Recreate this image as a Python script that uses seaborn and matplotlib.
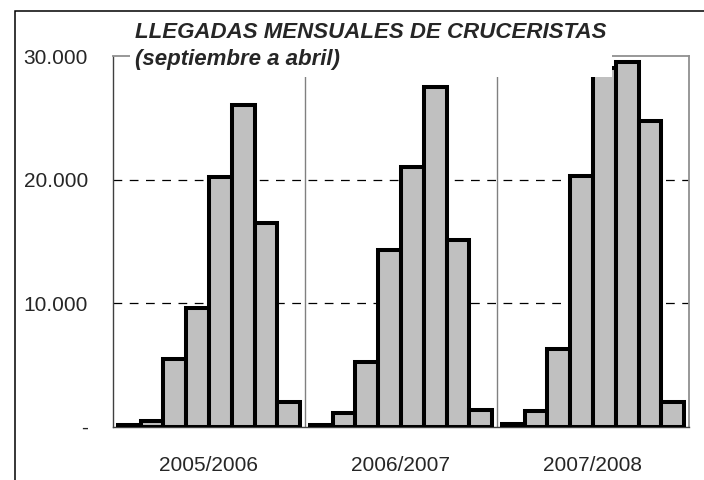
import pandas as pd
import seaborn as sns
import matplotlib.pyplot as plt
from matplotlib.patches import Rectangle
from matplotlib.ticker import FixedLocator

# Data: monthly cruise arrivals, September to April
seasons = ['2005/2006', '2006/2007', '2007/2008']
months = ['sep', 'oct', 'nov', 'dic', 'ene', 'feb', 'mar', 'abr']
v_2005 = [100, 450, 5500, 9600, 20200, 26000, 16500, 2000]
v_2006 = [100, 1100, 5200, 14300, 21000, 27500, 15100, 1350]
v_2007 = [200, 1270, 6270, 20300, 29000, 29550, 24700, 2000]
ytick_vals = [0, 10000, 20000, 30000]
ytick_labels = ['-', '10.000', '20.000', '30.000']

rows = []
for s, vals in zip(seasons, [v_2005, v_2006, v_2007]):
    for m, v in zip(months, vals):
        rows.append({'season': s, 'month': m, 'value': v})
df = pd.DataFrame(rows)

sns.set_style('white')
plt.rcParams['font.family'] = ['Liberation Sans', 'DejaVu Sans']

fig = plt.figure(figsize=(7.04, 4.8), dpi=100)
ax = fig.add_axes([113 / 704, 1 - 426.7 / 480, 576 / 704, (426.7 - 56) / 480])

sns.barplot(data=df, x='season', y='value', hue='month', order=seasons, hue_order=months,
            palette=['#C0C0C0'] * len(months), saturation=1, edgecolor='black',
            linewidth=2.9, width=0.948, gap=0, legend=False, ax=ax, zorder=3)

ax.set_xlim(-0.5, 2.5)
ax.set_ylim(0, 30000)

# dashed horizontal gridlines
for y in ytick_vals[1:-1]:
    ax.axhline(y, color='black', lw=0.9, ls=(0, (7, 6)), zorder=1)
# group separators
for k in range(1, len(seasons)):
    ax.axvline(k - 0.5, color='#808080', lw=1, zorder=1)

ax.set_yticks(ytick_vals)
ax.set_yticklabels(ytick_labels, fontsize=15)
ax.set_xticks(range(len(seasons)))
ax.set_xticklabels(seasons, fontsize=15)
ax.xaxis.set_minor_locator(FixedLocator([k - 0.5 for k in range(len(seasons) + 1)]))
ax.tick_params(axis='x', which='major', length=0, pad=21)
ax.tick_params(axis='x', which='minor', length=6, width=1, color='#606060', direction='out')
ax.tick_params(axis='y', length=5, width=1, color='#606060', direction='out', pad=13)
ax.set_xlabel('')
ax.set_ylabel('')

for side in ['top', 'right']:
    ax.spines[side].set_color('#909090')
    ax.spines[side].set_linewidth(1.3)
for side in ['left', 'bottom']:
    ax.spines[side].set_color('#404040')
    ax.spines[side].set_linewidth(1)

# outer chart border (only left/top visible)
fig.patches.append(Rectangle((15 / 704, -0.1), 1.2, 1.1 - 11 / 480,
                             transform=fig.transFigure, fill=False,
                             edgecolor='black', lw=1.1, zorder=5))

# title box covering top of the plot
fig.patches.append(Rectangle((130 / 704, 1 - 77 / 480), (612 - 130) / 704, (77 - 14) / 480,
                             transform=fig.transFigure, facecolor='white',
                             edgecolor='none', zorder=4))
fig.text(371 / 704, 1 - 32 / 480, 'LLEGADAS MENSUALES DE CRUCERISTAS',
         ha='center', va='center', fontsize=16, fontweight='bold', fontstyle='italic', zorder=6)
fig.text(135 / 704, 1 - 59 / 480, '(septiembre a abril)',
         ha='left', va='center', fontsize=16, fontweight='bold', fontstyle='italic', zorder=6)

fig.savefig('out.png', dpi=100)
